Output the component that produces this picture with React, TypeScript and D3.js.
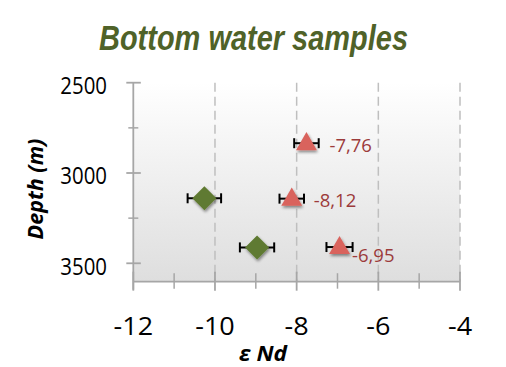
import React from "react";
import * as d3 from "d3";

const triangleX = [-7.76, -8.12, -6.95];
const triangleDepth = [2835, 3142, 3410];
const triangleErr = [0.3, 0.3, 0.32];
const triangleLabels = ["-7,76", "-8,12", "-6,95"];

const diamondX = [-10.26, -8.97];
const diamondDepth = [3140, 3412];
const diamondErr = [0.41, 0.42];

const xTicks = [-12, -10, -8, -6, -4];
const xMinorTicks = [-11, -9, -7, -5];
const yTicks = [2500, 3000, 3500];
const yMinorTicks = [2750, 3250];

const W = 506;
const H = 367;
const left = 133.3;
const right = 460;
const top = 82.7;
const bottom = 281.7;

const labelOffsets = [
  [23, 8.5],
  [22, 8.5],
  [12.5, 15],
];

const axisColor = "#a6a6a6";
const numFont = "'Open Sans', sans-serif";

function T(props: {
  x: number;
  y: number;
  sx?: number;
  anchor?: string;
  size: number;
  fill?: string;
  weight?: string | number;
  italic?: boolean;
  family?: string;
  rotate?: number;
  children: React.ReactNode;
}) {
  const { x, y, sx = 1, anchor = "start", size, fill = "#000", weight = "normal", italic, family = numFont, rotate = 0 } = props;
  return (
    <text
      transform={`translate(${x},${y}) rotate(${rotate}) scale(${sx},1)`}
      textAnchor={anchor}
      fontSize={size}
      fill={fill}
      fontWeight={weight}
      fontStyle={italic ? "italic" : "normal"}
      fontFamily={family}
    >
      {props.children}
    </text>
  );
}

export default function App() {
  const x = d3.scaleLinear().domain([-12, -4]).range([left, right]);
  const y = d3.scaleLinear().domain([2500, 3600]).range([top, top + (3600 - 2500) * 0.1806]);

  const tri = d3.symbol().type(d3.symbolTriangle).size(190);
  const dia = (s: number) => `M0,${-s}L${s},0L0,${s}L${-s},0Z`;

  return (
    <svg
      width={W}
      height={H}
      style={{ position: "absolute", left: 0, top: 0, background: "#fff" }}
    >
      <defs>
        <linearGradient id="bg" x1="0" y1="0" x2="0" y2="1">
          <stop offset="0" stopColor="#ffffff" />
          <stop offset="1" stopColor="#dedede" />
        </linearGradient>
        <filter id="soft" x="-30%" y="-30%" width="160%" height="160%">
          <feGaussianBlur in="SourceAlpha" stdDeviation="1.6" />
          <feOffset dx="0.5" dy="1.5" result="b" />
          <feComponentTransfer>
            <feFuncA type="linear" slope="0.45" />
          </feComponentTransfer>
          <feMerge>
            <feMergeNode />
            <feMergeNode in="SourceGraphic" />
          </feMerge>
        </filter>
      </defs>

      <T x={253.5} y={50} anchor="middle" size={34.5} sx={0.84} fill="#4f6228" weight="bold" italic family="'Liberation Sans', Arial, sans-serif">
        Bottom water samples
      </T>

      <rect x={left} y={top} width={right - left} height={bottom - top} fill="url(#bg)" />

      {xTicks.slice(1).map((t) => (
        <line key={t} x1={x(t)} x2={x(t)} y1={top} y2={bottom} stroke="#bfbfbf" strokeWidth={1.5} strokeDasharray="9,5" />
      ))}

      {/* axes */}
      <line x1={left} x2={left} y1={top} y2={bottom + 8} stroke={axisColor} strokeWidth={1.8} />
      <line x1={left} x2={right} y1={bottom} y2={bottom} stroke={axisColor} strokeWidth={1.8} />
      {yTicks.map((t) => (
        <line key={t} x1={left - 7} x2={left + 7.5} y1={y(t)} y2={y(t)} stroke={axisColor} strokeWidth={1.8} />
      ))}
      {yMinorTicks.map((t) => (
        <line key={t} x1={left - 5} x2={left + 5} y1={y(t)} y2={y(t)} stroke={axisColor} strokeWidth={1.5} />
      ))}
      {xTicks.map((t) => (
        <line key={t} x1={x(t)} x2={x(t)} y1={bottom - 10} y2={bottom + 9} stroke={axisColor} strokeWidth={1.8} />
      ))}
      {xMinorTicks.map((t) => (
        <line key={t} x1={x(t)} x2={x(t)} y1={bottom - 8.5} y2={bottom + 7} stroke={axisColor} strokeWidth={1.5} />
      ))}

      {yTicks.map((t) => (
        <T key={t} x={107} y={y(t) + 11.3} anchor="end" size={24} sx={0.85}>
          {String(t)}
        </T>
      ))}
      {xTicks.map((t) => (
        <T key={t} x={x(t)} y={334.5} anchor="middle" size={25} sx={1.08}>
          {String(t)}
        </T>
      ))}

      <T x={263} y={360.5} anchor="middle" size={22} sx={1.03} weight="bold" italic>
        ε Nd
      </T>
      <T x={42.5} y={189} anchor="middle" size={21.5} sx={1} weight="bold" italic rotate={-90}>
        Depth (m)
      </T>

      {/* error bars */}
      {triangleX.map((v, i) => (
        <g key={"te" + i} stroke="#000" strokeWidth={2}>
          <line x1={x(v - triangleErr[i])} x2={x(v + triangleErr[i])} y1={y(triangleDepth[i])} y2={y(triangleDepth[i])} />
          <line x1={x(v - triangleErr[i])} x2={x(v - triangleErr[i])} y1={y(triangleDepth[i]) - 5} y2={y(triangleDepth[i]) + 5} />
          <line x1={x(v + triangleErr[i])} x2={x(v + triangleErr[i])} y1={y(triangleDepth[i]) - 5} y2={y(triangleDepth[i]) + 5} />
        </g>
      ))}
      {diamondX.map((v, i) => (
        <g key={"de" + i} stroke="#000" strokeWidth={2}>
          <line x1={x(v - diamondErr[i])} x2={x(v + diamondErr[i])} y1={y(diamondDepth[i])} y2={y(diamondDepth[i])} />
          <line x1={x(v - diamondErr[i])} x2={x(v - diamondErr[i])} y1={y(diamondDepth[i]) - 5} y2={y(diamondDepth[i]) + 5} />
          <line x1={x(v + diamondErr[i])} x2={x(v + diamondErr[i])} y1={y(diamondDepth[i]) - 5} y2={y(diamondDepth[i]) + 5} />
        </g>
      ))}

      {/* markers */}
      {diamondX.map((v, i) => (
        <path key={"d" + i} d={dia(12)} transform={`translate(${x(v)},${y(diamondDepth[i])})`} fill="#5f7a30" filter="url(#soft)" />
      ))}
      {triangleX.map((v, i) => (
        <path key={"t" + i} d={tri() as string} transform={`translate(${x(v)},${y(triangleDepth[i]) + 1})`} fill="#d9635d" filter="url(#soft)" />
      ))}

      {triangleX.map((v, i) => (
        <T key={"l" + i} x={x(v) + labelOffsets[i][0]} y={y(triangleDepth[i]) + labelOffsets[i][1]} size={18.5} sx={1} fill="#9c3b3b">
          {triangleLabels[i]}
        </T>
      ))}
    </svg>
  );
}
